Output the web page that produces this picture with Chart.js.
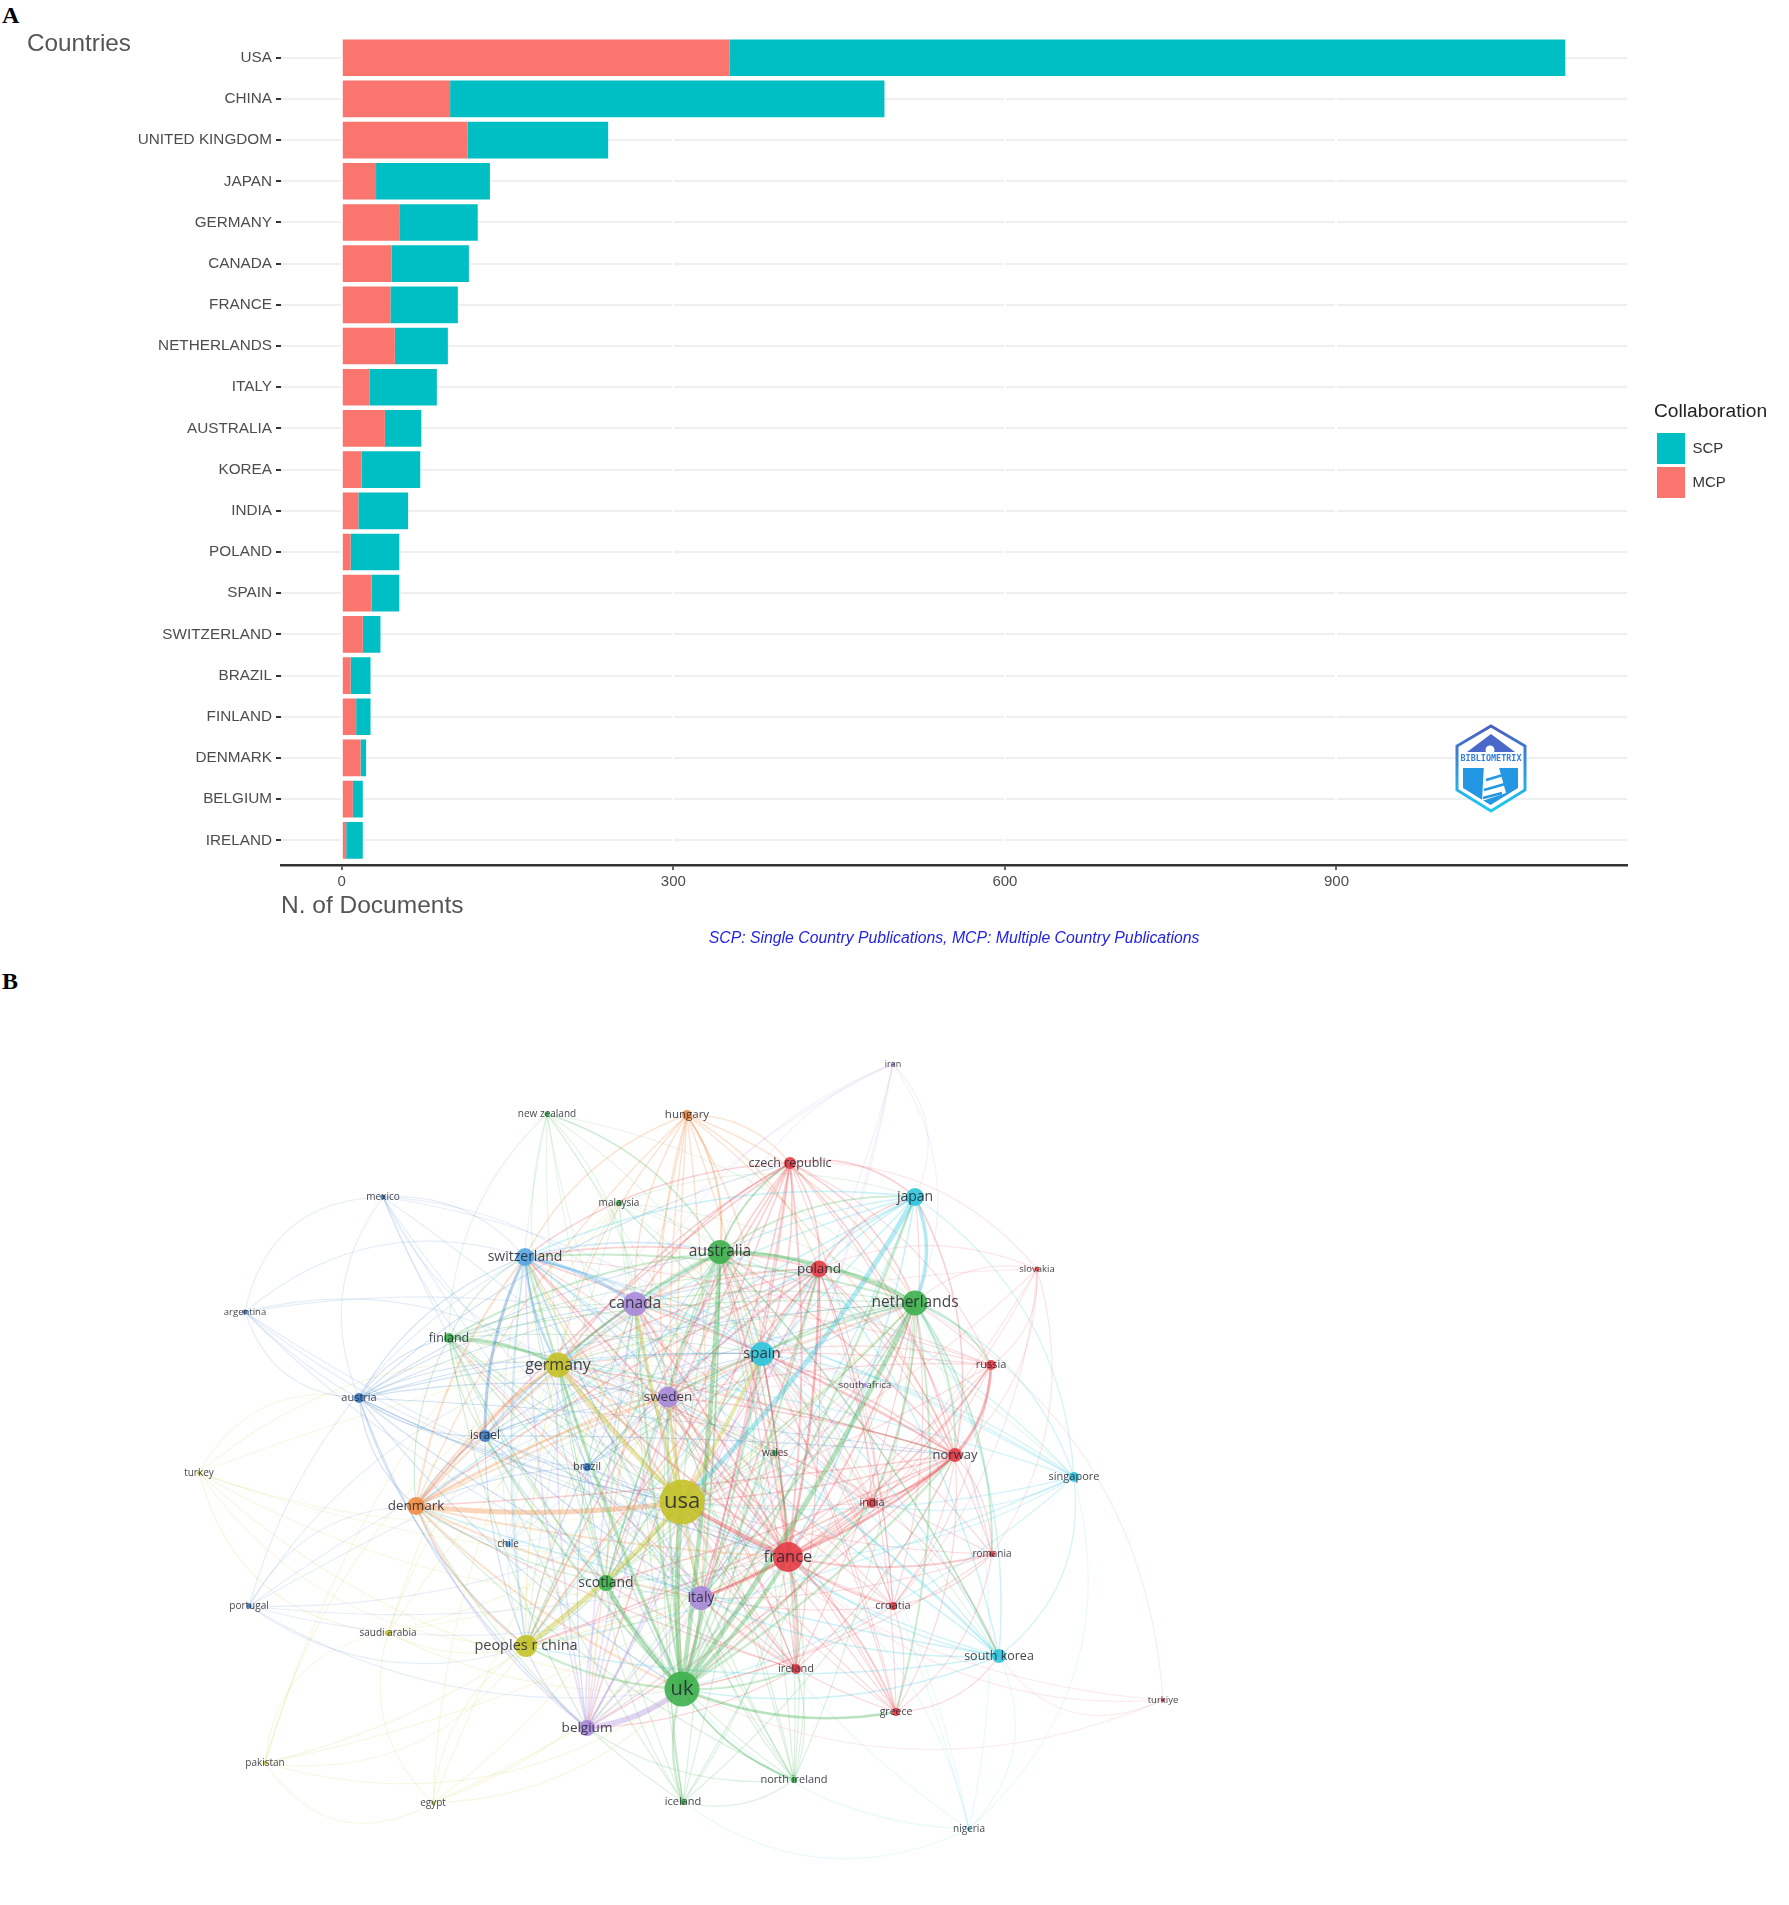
<!DOCTYPE html>
<html>
<head>
<meta charset="utf-8">
<title>Countries</title>
<script src="https://cdn.jsdelivr.net/npm/chart.js@4"></script>
<style>
    html, body { margin: 0; padding: 0; background: #fff; }
    body { position: relative; width: 1789px; height: 1905px; overflow: hidden; }
    #barBox { position: absolute; left: 0; top: 0; width: 1789px; height: 960px; }
    #netBox { position: absolute; left: 0; top: 1000px; width: 1789px; height: 905px; filter: blur(0.6px); }
    .panel { position: absolute; left: 2px; font: bold 24px "Liberation Serif", serif; color: #000; line-height: 24px; }
    #countriesLabel { position: absolute; left: 27px; top: 29px; font: 24.3px "Liberation Sans", sans-serif; color: #555; }
    #logo { position: absolute; left: 1455px; top: 724px; }
</style>
</head>
<body>
<div class="panel" style="top:3px">A</div>
<div class="panel" style="top:969px">B</div>
<div id="barBox"><canvas id="barChart"></canvas></div>
<div id="countriesLabel">Countries</div>
<svg id="logo" width="72" height="90" viewBox="0 0 72 90">
    <defs>
        <linearGradient id="logoGrad" x1="0" y1="0" x2="0" y2="1">
            <stop offset="0" stop-color="#4a5fc0"/>
            <stop offset="1" stop-color="#1dcbf2"/>
        </linearGradient>
    </defs>
    <polygon points="36,2 70,22 70,66 36,87 2,66 2,22" fill="#fff" stroke="url(#logoGrad)" stroke-width="3"/>
    <polygon points="36,10 60,28 12,28" fill="#4a68c9"/>
    <polygon points="8,44 63,44 63,64 35.5,81 8,64" fill="#2397e3"/>
    <circle cx="35" cy="26" r="4.5" fill="#fff"/>
    <text x="36" y="37" text-anchor="middle" textLength="61" lengthAdjust="spacingAndGlyphs" font-family="DejaVu Sans Mono" font-weight="bold" font-size="9" fill="#2f7fe0">BIBLIOMETRIX</text>
    <polygon points="29,40 43,40 51,69 27,77" fill="#fff"/>
    <path d="M31 56 L48 51 M29 66 L50 60 M28 74 L47 69" stroke="#2397e3" stroke-width="2.5" fill="none"/>
</svg>
<div id="netBox"><canvas id="netChart"></canvas></div>

<script>
// panel A - documents per country
var countries = ['USA', 'CHINA', 'UNITED KINGDOM', 'JAPAN', 'GERMANY', 'CANADA', 'FRANCE', 'NETHERLANDS', 'ITALY', 'AUSTRALIA',
    'KOREA', 'INDIA', 'POLAND', 'SPAIN', 'SWITZERLAND', 'BRAZIL', 'FINLAND', 'DENMARK', 'BELGIUM', 'IRELAND'];
var mcpDocs = [351, 98, 114, 31, 52, 45, 44, 48, 25, 39, 18, 15, 8, 27, 19, 8, 13, 17, 10, 4];
var scpDocs = [756, 393, 127, 103, 71, 70, 61, 48, 61, 33, 53, 45, 44, 25, 16, 18, 13, 5, 9, 15];
var docTicks = [0, 300, 600, 900];

var nodeNames = ['usa', 'uk', 'france', 'germany', 'canada', 'australia', 'netherlands', 'spain', 'italy', 'sweden',
    'peoples r china', 'switzerland', 'denmark', 'japan', 'poland', 'scotland', 'belgium', 'south korea', 'norway', 'czech republic',
    'israel', 'finland', 'austria', 'hungary', 'brazil', 'ireland', 'india', 'russia', 'singapore', 'croatia',
    'greece', 'romania', 'north ireland', 'iceland', 'wales', 'chile', 'new zealand', 'malaysia', 'mexico', 'argentina',
    'turkey', 'portugal', 'saudi arabia', 'pakistan', 'egypt', 'iran', 'slovakia', 'south africa', 'turkiye', 'nigeria'];
var nodeX = [682, 682, 788, 558, 635, 720, 915, 762, 701, 668,
    526, 525, 416, 915, 819, 606, 587, 999, 955, 790,
    485, 449, 359, 687, 587, 796, 872, 991, 1074, 893,
    896, 992, 794, 683, 775, 508, 547, 619, 383, 245,
    199, 249, 388, 265, 433, 893, 1037, 865, 1163, 969];
var nodeY = [1502, 1689, 1557, 1365, 1304, 1252, 1303, 1354, 1598, 1397,
    1646, 1257, 1506, 1197, 1269, 1583, 1728, 1656, 1455, 1163,
    1436, 1338, 1398, 1115, 1467, 1669, 1503, 1365, 1477, 1606,
    1712, 1554, 1780, 1802, 1453, 1544, 1114, 1203, 1197, 1312,
    1473, 1606, 1633, 1763, 1803, 1064, 1269, 1385, 1700, 1829];
var nodeSize = [22.5, 17.5, 15, 12.5, 12, 12, 12.5, 12, 12, 10.5,
    11, 9, 9, 9, 8.5, 8, 8, 7, 7, 6,
    6, 5, 5, 5, 4, 5, 5, 5, 5, 4,
    4, 3, 3, 3, 3, 3, 2.5, 3, 2.5, 2.5,
    2, 2.5, 3, 2, 2, 2, 2.5, 2, 2, 2];
var nodeGroup = ['olive', 'green', 'red', 'olive', 'purple', 'green', 'green', 'cyan', 'purple', 'purple',
    'olive', 'blue', 'orange', 'cyan', 'red', 'green', 'purple', 'cyan', 'red', 'red',
    'navy', 'green', 'navy', 'orange', 'navy', 'red', 'red', 'red', 'cyan', 'red',
    'red', 'red', 'green', 'green', 'green', 'blue', 'green', 'green', 'navy', 'navy',
    'olive', 'navy', 'olive', 'olive', 'olive', 'purple', 'red', 'purple', 'red', 'cyan'];
var labelPx = [22, 20, 16.5, 16, 15.5, 15.5, 15.5, 15, 14, 13.5,
    14.5, 14, 13.5, 14, 13.5, 14, 13.5, 12.5, 13, 12.5,
    12, 12.5, 11, 11.5, 11, 11, 11, 11, 11, 11,
    10.5, 10, 11, 11, 10, 10, 10, 10, 10, 9.5,
    10, 10, 10, 10, 10, 9, 9.5, 9.5, 9.5, 10];

var groupColors = {
    olive: '196,194,40',
    green: '62,176,78',
    red: '230,60,70',
    purple: '168,136,220',
    cyan: '44,197,222',
    blue: '84,166,230',
    navy: '56,124,200',
    orange: '238,140,66'
};

// who is linked to whom: each node lists the bigger nodes it connects to
var nodeLinks = [
    [],
    [0],
    [0, 1],
    [0, 1, 2],
    [0, 1, 2, 3],
    [0, 1, 2, 3, 4],
    [0, 1, 2, 3, 4, 5],
    [0, 1, 2, 3, 4, 5, 6],
    [0, 1, 2, 3, 4, 5, 6, 7],
    [0, 1, 2, 3, 4, 5, 6, 7, 8],
    [0, 1, 2, 3, 4, 5, 6, 7, 8, 9],
    [0, 1, 2, 3, 4, 5, 6, 7, 8, 9, 10],
    [0, 1, 2, 3, 4, 5, 6, 7, 8, 9, 10, 11],
    [0, 1, 2, 3, 4, 5, 6, 7, 8, 9, 10, 11, 12],
    [0, 1, 2, 3, 4, 5, 6, 7, 8, 9, 10, 11, 12, 13],
    [0, 1, 2, 3, 4, 5, 6, 7, 8, 9, 10, 11, 12, 14],
    [0, 1, 2, 3, 4, 5, 6, 7, 8, 9, 10, 11, 12, 14, 15],
    [0, 1, 2, 3, 4, 5, 6, 7, 8, 9, 10, 11, 12, 14],
    [0, 1, 2, 3, 4, 5, 6, 7, 8, 9, 10, 11, 12, 13, 14, 15, 16],
    [0, 1, 2, 3, 4, 5, 6, 7, 8, 9, 10, 11, 12, 13, 14, 15, 16, 18],
    [0, 1, 2, 3, 4, 5, 6, 7, 8, 9, 10, 11, 12, 14, 15, 18],
    [0, 1, 2, 3, 4, 5, 6, 7, 8, 9, 11, 12, 14, 15, 16, 18, 20],
    [0, 1, 2, 3, 4, 5, 6, 7, 8, 9, 10, 11, 12, 14, 16, 18, 19, 20, 21],
    [0, 1, 2, 3, 4, 5, 6, 7, 8, 9, 11, 12, 14, 16, 18, 19],
    [0, 1, 2, 3, 4, 5, 6, 7, 8, 9, 10, 11, 12, 14, 15, 16],
    [0, 1, 2, 3, 4, 5, 6, 7, 8, 9, 11, 12, 14, 15, 16, 18, 21],
    [0, 1, 2, 3, 4, 5, 6, 7, 8, 9, 10, 11, 13, 14, 17, 18],
    [0, 1, 2, 3, 4, 6, 7, 8, 9, 11, 14, 18, 19, 26],
    [0, 1, 2, 3, 4, 5, 6, 7, 10, 11, 13, 17, 26],
    [0, 1, 2, 3, 5, 6, 7, 8, 9, 14, 18, 19, 27],
    [0, 1, 2, 3, 4, 5, 6, 7, 8, 9, 11, 14, 17, 18, 29],
    [0, 1, 2, 3, 6, 7, 8, 14, 18, 19, 29, 30],
    [0, 1, 2, 3, 4, 5, 6, 7, 8, 9, 11, 12, 15, 16, 25],
    [0, 1, 2, 3, 4, 5, 6, 7, 9, 12, 15, 18, 21, 32],
    [0, 1, 2, 3, 5, 6, 7, 8, 9, 15, 16, 25, 32],
    [0, 1, 2, 3, 4, 7, 8, 10, 11, 12, 24],
    [0, 1, 2, 3, 4, 5, 6, 7, 9, 10, 15, 21],
    [0, 1, 3, 5, 6, 7, 10, 13, 17, 26, 28],
    [0, 1, 2, 3, 4, 7, 8, 11, 22, 24],
    [0, 2, 3, 7, 8, 11, 22, 24, 38],
    [0, 1, 2, 3, 6, 8, 10, 22],
    [0, 1, 2, 3, 6, 7, 8, 10, 11, 12],
    [0, 1, 3, 5, 10, 26, 37, 40],
    [0, 1, 3, 10, 26, 37, 42],
    [0, 1, 3, 5, 8, 10, 26, 42, 43],
    [0, 1, 3, 4, 5, 6, 8, 13],
    [0, 1, 2, 3, 6, 14, 18, 19, 27, 29, 31],
    [0, 1, 2, 3, 4, 5, 6, 7, 8, 9, 11, 26],
    [0, 1, 2, 6, 17],
    [0, 1, 2, 5, 6, 7, 17, 28, 33]
];
// the links that are visibly thicker: [node, bigger node, width]
var strongLinks = [
    [1, 0, 5], [2, 0, 4], [2, 1, 4], [3, 0, 5], [4, 0, 3.5], [5, 1, 4.5], [6, 1, 5], [6, 5, 3.5], [7, 0, 4], [9, 0, 3],
    [10, 0, 5], [11, 4, 3.5], [11, 3, 2.5], [12, 0, 5], [13, 0, 5], [13, 6, 3.5], [15, 1, 4], [16, 1, 5.5], [8, 2, 3],
    [8, 0, 2.5], [18, 2, 2.5], [27, 18, 3], [20, 11, 3], [21, 3, 3], [24, 20, 2.5], [14, 2, 2.5], [19, 5, 2], [23, 5, 2],
    [17, 28, 2], [26, 18, 2], [32, 1, 2], [8, 1, 3], [5, 3, 2.5], [5, 7, 2.5], [30, 1, 2.5], [17, 5, 1.5]
];
// fans that stay in the colour of the big node, with their usual line width
var hubFans = {
    1: { width: 2.4, others: [0, 2, 3, 4, 5, 6, 7, 8, 9, 10, 11, 13, 14, 15, 18, 20, 25, 26, 30, 32, 33] },
    2: { width: 2, others: [0, 3, 4, 5, 6, 7, 8, 9, 11, 14, 18, 19, 25, 26, 27, 29, 30, 31] },
    5: { width: 1.8, others: [7, 8, 9, 10, 13, 14, 15, 17, 19, 21, 36] },
    6: { width: 2, others: [7, 8, 9, 11, 14, 18, 26, 27, 30, 31] },
    0: { width: 1.7, others: [3, 4, 7, 8, 9, 10, 11] }
};
// nodes whose own fan of links is drawn wider than the rest
var ownerWidth = { 11: 1.7, 12: 2.2, 13: 1.7, 14: 1.7, 16: 1.7, 18: 1.6, 19: 1.7, 23: 1.5, 17: 1.5, 28: 1.4 };

var mapCenterX = 690;
var mapCenterY = 1470;

function linkWidth(a, b) {
    for (var i = 0; i < strongLinks.length; i++) {
        if (strongLinks[i][0] == a && strongLinks[i][1] == b) return strongLinks[i][2];
    }
    return 0;
}

// the outer countries have much fainter links
function linkAlpha(a) {
    if (a >= 48) return 0.1;
    if (a >= 35) return 0.13;
    if (a >= 26) return 0.19;
    return 0.23;
}

// the legend only measures its rows, so it gets moved under its long title here
var legendSpot = {
    id: 'legendSpot',
    afterLayout: function (chart) {
        var lg = chart.legend;
        lg.left = 1654;
        lg.right = 1789;
        lg.top -= 41;
        lg.bottom -= 41;
    }
};

// chart A ==========================================================
new Chart(document.getElementById('barChart'), {
    type: 'bar',
    data: {
        datasets: [
            { label: 'MCP', data: mcpDocs.map(function (v, i) { return { x: v, y: i }; }), backgroundColor: '#FA756D', categoryPercentage: 0.89, barPercentage: 1 },
            { label: 'SCP', data: scpDocs.map(function (v, i) { return { x: v, y: i }; }), backgroundColor: '#00BFC4', categoryPercentage: 0.89, barPercentage: 1 }
        ]
    },
    options: {
        indexAxis: 'y',
        responsive: true,
        maintainAspectRatio: false,
        animation: false,
        layout: { padding: { top: 33, left: 0, right: 80, bottom: 8 } },
        scales: {
            y: {
                type: 'linear',
                stacked: true,
                offset: false,
                min: -0.6,
                max: 19.6,
                reverse: true,
                afterFit: function (s) { s.width = 281; },
                afterBuildTicks: function (s) { s.ticks = countries.map(function (c, i) { return { value: i }; }); },
                ticks: {
                    autoSkip: false,
                    padding: 4,
                    color: '#4d4d4d',
                    font: { family: 'Liberation Sans', size: 15.3 },
                    callback: function (v) { return countries[v]; }
                },
                grid: { offset: false, color: '#efefef', lineWidth: 2, tickColor: '#333', tickWidth: 2, tickLength: 5 },
                border: { display: false }
            },
            x: {
                stacked: true,
                min: -55,
                max: 1163,
                afterBuildTicks: function (s) { s.ticks = docTicks.map(function (v) { return { value: v }; }); },
                afterFit: function (s) { s.height = 56; },
                ticks: { autoSkip: false, maxRotation: 0, padding: 3, color: '#4d4d4d', font: { family: 'Liberation Sans', size: 15 } },
                grid: { color: '#fff', lineWidth: 2, tickColor: '#333', tickWidth: 1.5, tickLength: 5 },
                border: { display: true, color: '#333', width: 2.5 },
                title: {
                    display: true,
                    text: 'N. of Documents',
                    align: 'start',
                    color: '#555',
                    padding: { top: 0, bottom: 0 },
                    font: { family: 'Liberation Sans', size: 24.5 }
                }
            }
        },
        plugins: {
            tooltip: { enabled: false },
            title: {
                display: true,
                position: 'bottom',
                fullSize: false,
                text: 'SCP: Single Country Publications, MCP: Multiple Country Publications',
                color: '#2323e6',
                padding: { top: 8, bottom: 4 },
                font: { family: 'Liberation Sans', size: 15.8, style: 'italic', weight: 'normal' }
            },
            legend: {
                position: 'right',
                align: 'center',
                reverse: true,
                title: { display: true, text: 'Collaboration', position: 'start', color: '#222', padding: { top: 0, bottom: 5 }, font: { family: 'Liberation Sans', size: 19.2 } },
                labels: { boxWidth: 28, boxHeight: 31, padding: 3, color: '#333', font: { family: 'Liberation Sans', size: 15 } }
            }
        }
    },
    plugins: [legendSpot]
});

// chart B ==========================================================
var linkSets = [];
nodeLinks.forEach(function (others, a) {
    others.forEach(function (b) {
        var strong = linkWidth(a, b);
        var fan = hubFans[b] && hubFans[b].others.indexOf(a) >= 0 ? hubFans[b] : null;
        var group = fan ? nodeGroup[b] : nodeGroup[a];
        var alpha = strong ? 0.36 : (fan ? 0.26 : linkAlpha(a));
        linkSets.push({
            type: 'line',
            data: [{ x: nodeX[a], y: nodeY[a] }, { x: nodeX[b], y: nodeY[b] }],
            borderColor: 'rgba(' + groupColors[group] + ',' + alpha + ')',
            borderWidth: strong || (fan ? fan.width : (ownerWidth[a] || 1.2)),
            pointRadius: 0,
            tension: 0.4,
            fill: false
        });
    });
});

var nodeSet = {
    type: 'bubble',
    data: nodeNames.map(function (n, i) { return { x: nodeX[i], y: nodeY[i], r: nodeSize[i] }; }),
    backgroundColor: nodeGroup.map(function (g) { return 'rgba(' + groupColors[g] + ',0.9)'; }),
    borderWidth: 0
};

// VOSviewer draws its links as arcs that lean away from the middle of the map
var curvedLinks = {
    id: 'curvedLinks',
    beforeDatasetsDraw: function (chart) {
        var top = chart.canvas.getBoundingClientRect().top;
        chart.getSortedVisibleDatasetMetas().forEach(function (meta) {
            if (meta.type != 'line') return;
            var p0 = meta.data[0], p1 = meta.data[1];
            var midX = (p0.x + p1.x) / 2, midY = (p0.y + p1.y) / 2;
            var dx = p1.x - p0.x, dy = p1.y - p0.y;
            var len = Math.sqrt(dx * dx + dy * dy);
            var nx = -dy / len, ny = dx / len;
            var offX = midX - mapCenterX, offY = midY + top - mapCenterY;
            if (nx * offX + ny * offY < 0) { nx = -nx; ny = -ny; }
            var far = Math.sqrt(offX * offX + offY * offY) / 500;
            var bend = len * (0.02 + far * far * 0.5);
            var cx = midX + nx * bend, cy = midY + ny * bend;
            p0.cp2x = p0.x + (cx - p0.x) * 2 / 3;
            p0.cp2y = p0.y + (cy - p0.y) * 2 / 3;
            p1.cp1x = p1.x + (cx - p1.x) * 2 / 3;
            p1.cp1y = p1.y + (cy - p1.y) * 2 / 3;
            meta.dataset._pointsUpdated = true;
        });
    }
};

var nodeLabels = {
    id: 'nodeLabels',
    afterDatasetsDraw: function (chart) {
        var ctx = chart.ctx;
        ctx.save();
        ctx.textAlign = 'center';
        ctx.textBaseline = 'middle';
        ctx.fillStyle = 'rgba(38,38,48,0.86)';
        nodeNames.forEach(function (n, i) {
            ctx.font = labelPx[i] + 'px "Open Sans"';
            ctx.fillText(n, chart.scales.x.getPixelForValue(nodeX[i]), chart.scales.y.getPixelForValue(nodeY[i]));
        });
        ctx.restore();
    }
};

new Chart(document.getElementById('netChart'), {
    type: 'bubble',
    data: { datasets: [nodeSet].concat(linkSets) },
    options: {
        responsive: true,
        maintainAspectRatio: false,
        animation: false,
        layout: { padding: 0, autoPadding: false },
        scales: {
            x: { type: 'linear', min: 0, max: 1789, display: false },
            y: { type: 'linear', min: 1000, max: 1905, reverse: true, display: false }
        },
        plugins: { legend: { display: false }, tooltip: { enabled: false } }
    },
    plugins: [curvedLinks, nodeLabels]
});
</script>
</body>
</html>
